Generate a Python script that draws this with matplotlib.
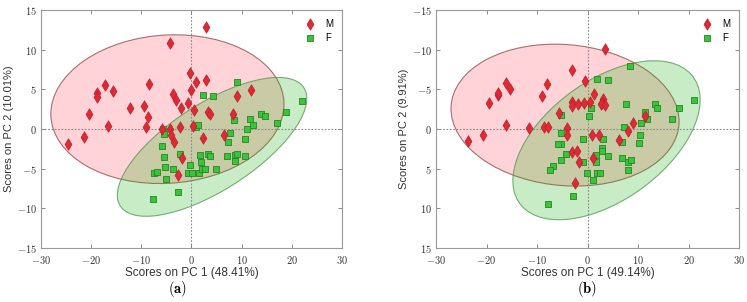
import numpy as np
import matplotlib.pyplot as plt
from matplotlib.patches import Ellipse
from matplotlib.ticker import FuncFormatter, MultipleLocator

plt.rcParams['mathtext.fontset'] = 'cm'

# panel (a) scores
m_a_x = [-24.6, -21.4, -20.4, -18.9, -18.9, -17.2, -16.7, -15.7, -12.2, -9.4, -9.0, -8.6, -8.5,
         -5.8, -4.2, -4.2, -4.1, -3.6, -3.1, -3.4, -2.3, -2.0, -1.8, -2.6, -0.7, -0.3, 0.0,
         0.3, 0.5, 0.9, 2.9, 2.9, 3.2, 3.7, 2.2, 6.5, 8.2, 9.0, 11.8]
m_a_y = [-1.9, -1.0, 1.9, 4.5, 4.0, 5.5, 0.4, 4.8, 2.6, 2.9, 0.2, 1.5, 5.7,
         0.0, 10.9, 0.0, -0.7, 4.4, 3.6, -1.6, 0.3, 2.6, -3.7, -5.8, 3.3, 7.1, 4.9,
         0.4, 2.4, 5.9, 6.2, 12.8, 2.2, 1.9, -1.1, -0.7, 1.9, 4.1, 4.9]
f_a_x = [2.2, 4.3, 9.0, -5.7, -5.4, -5.8, -5.4, -5.2, -7.5, -6.8, -5.0, -3.7, -7.7, -2.7,
         -2.3, -0.2, -0.7, 0.1, 1.5, 2.1, 2.7, 4.8, 1.7, 1.9, 3.2, 3.6, 0.8, 1.3,
         7.0, 7.3, 7.6, 8.4, 8.6, 8.7, 9.0, 10.6, 11.0, 10.7, 11.7, 12.3, 13.9, 14.7,
         17.1, 18.8, 22.0]
f_a_y = [4.3, 4.1, 5.9, 0.0, -0.6, -2.1, -3.5, -4.8, -5.6, -5.4, -6.3, -5.0, -8.8, -8.0,
         -3.1, -4.6, -5.5, -5.6, -5.5, -5.1, -5.0, -5.0, -3.3, -4.2, -3.1, -3.4, 0.2, 0.5,
         -3.4, -1.6, -0.5, 1.1, -4.0, -3.3, -3.1, -1.2, 0.0, -3.4, 1.3, 0.5, 1.9, 1.7,
         0.8, 2.2, 3.5]

# panel (b) scores
m_b_x = [-23.7, -20.7, -19.6, -17.8, -17.7, -16.1, -15.3, -16.2, -11.5, -9.0, -8.0, -8.6,
         -7.8, -5.6, -4.0, -4.0, -3.1, -3.1, -3.1, -3.1, -2.0, -1.8, -2.4, -1.6, -0.4,
         -0.6, 0.5, 1.2, 0.8, 1.0, 2.2, 3.0, 2.9, 2.7, 3.4, 3.4, 6.2, 8.1, 9.1, 11.3]
m_b_y = [1.5, 0.8, -3.3, -4.3, -4.5, -5.8, -5.0, -0.5, -0.1, -4.2, -5.7, -0.3,
         -0.2, -2.0, -0.1, 0.8, -7.4, -3.4, -2.9, 2.9, 2.8, -3.1, 6.8, 4.1, -6.0,
         -3.3, -3.4, -4.4, 0.7, 3.6, 0.7, -3.8, -3.3, -3.1, -3.0, -10.1, 1.4, 0.3, -0.8, -1.7]
f_b_x = [8.5, 1.9, 4.1, -5.3, -5.3, -5.3, -5.8, -5.3, -4.2, -6.9, -7.5, -7.9, -2.8, 0.6,
         0.2, -0.8, -0.9, -0.1, 1.0, 1.6, 1.6, 1.8, 2.4, 2.9, 2.9, 3.1, 4.1, 7.7, 7.3,
         6.9, 6.8, 8.1, 8.6, 8.0, 10.2, 10.3, 10.5, 11.3, 11.7, 13.3, 13.7, 16.7, 18.2, 21.0]
f_b_y = [-8.0, -6.3, -6.2, -1.8, 0.5, 1.9, 1.9, 3.9, 3.1, 4.7, 5.2, 9.5, 8.5, -2.7,
         -1.6, 1.3, 4.2, 5.5, 6.4, 3.3, 4.2, 5.5, 5.6, 2.4, 2.8, 1.2, 3.4, -3.1, -0.3,
         1.7, 3.6, 4.2, 3.9, 5.2, 1.8, 0.8, -0.8, -2.2, -1.2, -3.2, -2.7, -1.3, -2.6, -3.6]

# confidence ellipses: centre x, centre y, width, height, angle
ell_m_a = (-4.8, 2.5, 46.5, 18.7, 1.8)
ell_f_a = (4.1, -2.25, 39.9, 11.9, 19.7)
ell_m_b = (-4.45, -1.75, 45.2, 17.8, 2.4)
ell_f_b = (3.76, 1.42, 38.8, 16.5, -18.9)

x_labels = ['Scores on PC 1 (48.41%)', 'Scores on PC 1 (49.14%)']
y_labels = ['Scores on PC 2 (10.01%)', 'Scores on PC 2 (9.91%)']
captions = [r'$(\mathbf{a})$', r'$(\mathbf{b})$']

fig = plt.figure(figsize=(7.47, 3.02), dpi=100)
ax_a = fig.add_axes([0.0549, 0.1788, 0.4029, 0.7881])
ax_b = fig.add_axes([0.5837, 0.1788, 0.4056, 0.7881])

panels = [
    (ax_a, m_a_x, m_a_y, f_a_x, f_a_y, ell_m_a, ell_f_a),
    (ax_b, m_b_x, m_b_y, f_b_x, f_b_y, ell_m_b, ell_f_b),
]

for i, (ax, mx, my, fx, fy, em, ef) in enumerate(panels):
    ax.add_patch(Ellipse((em[0], em[1]), em[2], em[3], angle=em[4],
                         facecolor=(1.0, 0.05, 0.15, 0.18), edgecolor=(0.6, 0.3, 0.3, 0.8),
                         linewidth=0.8, zorder=1))
    ax.add_patch(Ellipse((ef[0], ef[1]), ef[2], ef[3], angle=ef[4],
                         facecolor=(0.1, 0.7, 0.05, 0.24), edgecolor=(0.35, 0.6, 0.35, 0.8),
                         linewidth=0.8, zorder=1))
    ax.axhline(0, color='#888888', linestyle=(0, (1.5, 1.5)), linewidth=0.8, zorder=2)
    ax.axvline(0, color='#888888', linestyle=(0, (1.5, 1.5)), linewidth=0.8, zorder=2)
    ax.scatter(mx, my, marker='d', s=34, color='#dd2a35', edgecolors='#c01d28',
               linewidths=0.5, label='M', zorder=4)
    ax.scatter(fx, fy, marker='s', s=15, color='#3ec23e', edgecolors='#1f8a1f',
               linewidths=0.6, label='F', zorder=3)

    ax.set_xlim(-30, 30)
    if i == 0:
        ax.set_ylim(-15, 15)
    else:
        ax.set_ylim(15, -15)
    ax.xaxis.set_major_locator(MultipleLocator(10))
    ax.yaxis.set_major_locator(MultipleLocator(5))
    ax.xaxis.set_major_formatter(FuncFormatter(lambda v, p: r'$%d$' % v))
    ax.yaxis.set_major_formatter(FuncFormatter(lambda v, p: r'$%d$' % v))
    ax.tick_params(direction='in', length=3, width=0.6, color='#777777',
                   labelsize=7.5, labelcolor='#333333', top=True, right=True, pad=3)
    ax.tick_params(axis='x', pad=4)
    for sp in ax.spines.values():
        sp.set_color('#999999')
        sp.set_linewidth(0.8)

    ax.set_xlabel(x_labels[i], fontsize=8.5, family='Liberation Sans', color='#333333', labelpad=1)
    ax.set_ylabel(y_labels[i], fontsize=8, family='Liberation Sans', color='#333333', labelpad=2)

    ax.legend(loc='upper right', frameon=False, handletextpad=0.6,
              borderaxespad=0.5, labelspacing=0.4, prop={'family': 'Liberation Sans', 'size': 7})

fig.text(0.237, 0.042, captions[0], fontsize=10.5, ha='center', va='center')
fig.text(0.786, 0.042, captions[1], fontsize=10.5, ha='center', va='center')

plt.savefig('out.png', dpi=100)
